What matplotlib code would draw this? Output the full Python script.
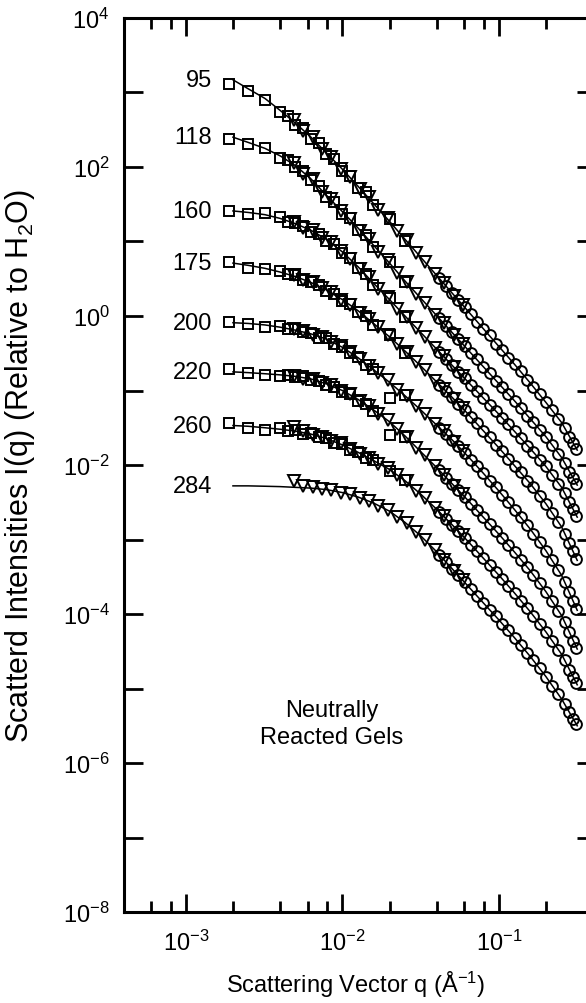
import numpy as np
import matplotlib
matplotlib.use("Agg")
import matplotlib.pyplot as plt
from matplotlib.ticker import FixedLocator, FuncFormatter, NullFormatter, NullLocator, LogLocator

plt.rcParams['font.family'] = 'Liberation Sans'
plt.rcParams['mathtext.fontset'] = 'custom'
plt.rcParams['mathtext.rm'] = 'Liberation Sans'
plt.rcParams['mathtext.it'] = 'Liberation Sans:italic'
plt.rcParams['mathtext.bf'] = 'Liberation Sans:bold'

# scattering vector grids (1/Angstrom)
q_fit = [0.0020, 0.0025, 0.0032, 0.0040, 0.0050, 0.0063, 0.0079, 0.0100, 0.0126, 0.0158, 0.0200, 0.0251,
         0.0316, 0.0398, 0.0501, 0.0631, 0.0794, 0.1000, 0.1259, 0.1585, 0.1995, 0.2512, 0.3162]
q_sq = [0.0019, 0.0025, 0.0032, 0.0040, 0.0045, 0.0050, 0.0056, 0.0063, 0.0071, 0.0079, 0.0089, 0.0100,
        0.0112, 0.0126, 0.0141, 0.0158, 0.0200, 0.0251]
q_tri = [0.0049, 0.0056, 0.0065, 0.0074, 0.0085, 0.0098, 0.0112, 0.0129, 0.0148, 0.0170, 0.0195, 0.0224,
         0.0257, 0.0295, 0.0339, 0.0389, 0.0447, 0.0513, 0.0589]
q_circ = [0.0417, 0.0457, 0.0501, 0.0550, 0.0603, 0.0661, 0.0724, 0.0794, 0.0871, 0.0955, 0.1047, 0.1148,
          0.1259, 0.1380, 0.1514, 0.1660, 0.1820, 0.1995, 0.2188, 0.2399, 0.2630, 0.2818, 0.2985, 0.3126]

# log10 of intensity, one set per gel
fit_95 = [3.17, 3.05, 2.92, 2.76, 2.59, 2.40, 2.19, 1.97, 1.74, 1.51, 1.27, 1.03, 0.79, 0.55, 0.31, 0.07,
          -0.17, -0.41, -0.65, -0.90, -1.16, -1.43, -1.80]
sq_95 = [3.12, 3.02, 2.90, 2.74, 2.69, 2.57, 2.52, 2.38, 2.32, 2.17, 2.11, 1.95, 1.88, 1.72, 1.66, 1.49, 1.30, 1.01]
tri_95 = [2.63, 2.48, 2.40, 2.24, 2.14, 1.97, 1.87, 1.70, 1.60, 1.42, 1.31, 1.14, 1.02, 0.85, 0.73, 0.56,
          0.44, 0.27, 0.15]
circ_95 = [0.51, 0.40, 0.31, 0.21, 0.12, 0.03, -0.08, -0.17, -0.26, -0.37, -0.45, -0.56, -0.65, -0.74,
           -0.86, -0.95, -1.05, -1.16, -1.26, -1.38, -1.50, -1.62, -1.70, -1.78]

fit_118 = [2.40, 2.33, 2.25, 2.15, 2.02, 1.84, 1.62, 1.40, 1.18, 0.95, 0.71, 0.47, 0.24, 0.01, -0.22, -0.45,
           -0.68, -0.91, -1.14, -1.38, -1.62, -1.90, -2.27]
sq_118 = [2.37, 2.31, 2.26, 2.12, 2.10, 2.00, 1.95, 1.82, 1.75, 1.60, 1.53, 1.37, 1.31, 1.16, 1.09, 0.92, 0.73, 0.45]
tri_118 = [2.05, 1.91, 1.84, 1.67, 1.57, 1.41, 1.30, 1.14, 1.04, 0.86, 0.75, 0.58, 0.46, 0.30, 0.18, 0.02,
           -0.09, -0.25, -0.37]
circ_118 = [-0.03, -0.13, -0.22, -0.31, -0.40, -0.50, -0.58, -0.68, -0.77, -0.87, -0.95, -1.05, -1.14, -1.23,
            -1.34, -1.42, -1.53, -1.62, -1.73, -1.85, -1.97, -2.09, -2.17, -2.25]

fit_160 = [1.41, 1.39, 1.36, 1.31, 1.24, 1.15, 1.03, 0.86, 0.66, 0.44, 0.22, 0.00, -0.22, -0.44, -0.66, -0.88,
           -1.10, -1.32, -1.55, -1.78, -2.02, -2.30, -2.70]
sq_160 = [1.41, 1.37, 1.38, 1.33, 1.26, 1.25, 1.21, 1.13, 1.10, 1.01, 0.96, 0.84, 0.78, 0.64, 0.57, 0.42, 0.24, -0.02]
tri_160 = [1.26, 1.18, 1.15, 1.05, 0.99, 0.87, 0.77, 0.63, 0.52, 0.36, 0.25, 0.10, -0.01, -0.16, -0.28, -0.43,
           -0.54, -0.69, -0.81]
circ_160 = [-0.48, -0.58, -0.66, -0.75, -0.83, -0.93, -1.01, -1.10, -1.19, -1.27, -1.37, -1.45, -1.55, -1.64,
            -1.74, -1.82, -1.93, -2.02, -2.13, -2.25, -2.38, -2.50, -2.59, -2.68]

fit_175 = [0.71, 0.68, 0.64, 0.59, 0.53, 0.45, 0.35, 0.22, 0.07, -0.10, -0.28, -0.47, -0.67, -0.88, -1.09, -1.31,
           -1.54, -1.77, -2.01, -2.25, -2.52, -2.83, -3.28]
sq_175 = [0.72, 0.65, 0.63, 0.61, 0.57, 0.55, 0.48, 0.46, 0.42, 0.33, 0.30, 0.20, 0.16, 0.05, 0.00, -0.12, -0.26, -0.49]
tri_175 = [0.55, 0.48, 0.45, 0.37, 0.32, 0.22, 0.15, 0.04, -0.04, -0.15, -0.25, -0.38, -0.48, -0.62, -0.72,
           -0.87, -0.98, -1.12, -1.23]
circ_175 = [-0.92, -1.01, -1.09, -1.18, -1.26, -1.36, -1.44, -1.54, -1.63, -1.73, -1.81, -1.92, -2.01, -2.10,
            -2.21, -2.30, -2.42, -2.52, -2.64, -2.77, -2.92, -3.05, -3.16, -3.26]

fit_200 = [-0.09, -0.10, -0.12, -0.15, -0.19, -0.24, -0.31, -0.42, -0.56, -0.72, -0.89, -1.07, -1.26, -1.46,
           -1.66, -1.88, -2.11, -2.35, -2.60, -2.86, -3.15, -3.48, -3.95]
sq_200 = [-0.08, -0.11, -0.15, -0.14, -0.18, -0.17, -0.22, -0.23, -0.29, -0.30, -0.38, -0.41, -0.50, -0.55,
          -0.66, -0.71, -1.10, -1.06]
tri_200 = [-0.17, -0.20, -0.25, -0.28, -0.35, -0.40, -0.48, -0.58, -0.67, -0.77, -0.86, -0.99, -1.08, -1.21,
           -1.31, -1.45, -1.55, -1.69, -1.81]
circ_200 = [-1.50, -1.58, -1.66, -1.75, -1.84, -1.93, -2.02, -2.11, -2.21, -2.30, -2.40, -2.50, -2.60, -2.70,
            -2.81, -2.92, -3.03, -3.15, -3.28, -3.41, -3.57, -3.71, -3.83, -3.93]

fit_220 = [-0.75, -0.76, -0.775, -0.79, -0.81, -0.845, -0.91, -1.00, -1.12, -1.26, -1.42, -1.61, -1.82, -2.03,
           -2.25, -2.47, -2.70, -2.93, -3.17, -3.42, -3.70, -4.02, -4.47]
sq_220 = [-0.71, -0.77, -0.79, -0.80, -0.79, -0.82, -0.81, -0.86, -0.87, -0.93, -0.95, -1.02, -1.05, -1.14,
          -1.18, -1.28, -1.60, -1.63]
tri_220 = [-0.80, -0.84, -0.84, -0.90, -0.93, -1.00, -1.05, -1.14, -1.21, -1.32, -1.40, -1.52, -1.62, -1.77,
           -1.87, -2.02, -2.13, -2.28, -2.39]
circ_220 = [-2.07, -2.17, -2.25, -2.34, -2.43, -2.52, -2.61, -2.70, -2.79, -2.89, -2.98, -3.07, -3.17, -3.27,
            -3.37, -3.48, -3.59, -3.70, -3.83, -3.96, -4.11, -4.24, -4.36, -4.45]

fit_260 = [-1.47, -1.48, -1.50, -1.52, -1.545, -1.585, -1.645, -1.73, -1.83, -1.94, -2.06, -2.21, -2.39, -2.59,
           -2.80, -3.02, -3.25, -3.48, -3.72, -3.97, -4.24, -4.54, -4.95]
sq_260 = [-1.44, -1.50, -1.53, -1.51, -1.55, -1.53, -1.58, -1.57, -1.63, -1.64, -1.70, -1.72, -1.80, -1.82,
          -1.90, -1.93, -2.08, -2.20]
tri_260 = [-1.49, -1.55, -1.60, -1.62, -1.68, -1.71, -1.78, -1.85, -1.90, -1.98, -2.04, -2.14, -2.22, -2.35,
           -2.44, -2.58, -2.69, -2.83, -2.94]
circ_260 = [-2.63, -2.72, -2.80, -2.89, -2.98, -3.07, -3.16, -3.25, -3.34, -3.43, -3.53, -3.62, -3.72, -3.82,
            -3.92, -4.02, -4.13, -4.24, -4.36, -4.48, -4.62, -4.75, -4.85, -4.93]

fit_284 = [-2.28, -2.28, -2.285, -2.29, -2.30, -2.31, -2.33, -2.37, -2.43, -2.51, -2.62, -2.77, -2.95, -3.16,
           -3.39, -3.62, -3.85, -4.08, -4.32, -4.57, -4.84, -5.14, -5.50]
sq_284 = []  # no low-q data for this gel
tri_284 = [-2.22, -2.28, -2.30, -2.32, -2.33, -2.37, -2.39, -2.44, -2.48, -2.55, -2.60, -2.70, -2.78, -2.90,
           -3.01, -3.14, -3.27, -3.42, -3.54]
circ_284 = [-3.21, -3.30, -3.39, -3.48, -3.57, -3.67, -3.76, -3.85, -3.94, -4.03, -4.13, -4.22, -4.32, -4.42,
            -4.52, -4.62, -4.73, -4.84, -4.96, -5.08, -5.21, -5.32, -5.41, -5.48]

curves = [
    ('95', fit_95, sq_95, tri_95, circ_95),
    ('118', fit_118, sq_118, tri_118, circ_118),
    ('160', fit_160, sq_160, tri_160, circ_160),
    ('175', fit_175, sq_175, tri_175, circ_175),
    ('200', fit_200, sq_200, tri_200, circ_200),
    ('220', fit_220, sq_220, tri_220, circ_220),
    ('260', fit_260, sq_260, tri_260, circ_260),
    ('284', fit_284, sq_284, tri_284, circ_284),
]

fig = plt.figure(figsize=(5.86, 10.04), dpi=100)
ax = fig.add_axes([0.2108, 0.0906, 0.7926, 0.8905])
ax.set_xscale('log')
ax.set_yscale('log')

mk = dict(linestyle='none', mfc='none', mec='black', mew=1.4)
for name, fit, sq, tri, circ in curves:
    ax.plot(q_fit, 10 ** np.array(fit), color='black', lw=1.1)
    if sq:
        ax.plot(q_sq, 10 ** np.array(sq), marker='s', ms=7.8, **mk)
    ax.plot(q_tri, 10 ** np.array(tri), marker='v', ms=8.8, **mk)
    ax.plot(q_circ, 10 ** np.array(circ), marker='o', ms=7.8, **mk)
    ax.text(1.47e-3, 10 ** fit[0], name, ha='right', va='center', fontsize=17)

ax.text(0.449, 0.211, 'Neutrally\nReacted Gels', transform=ax.transAxes, ha='center', va='center',
        fontsize=17, linespacing=1.25, multialignment='center')

ax.set_xlim(4.0e-4, 0.3704)
ax.set_ylim(1e-8, 1e4)

# x ticks
ax.xaxis.set_major_locator(FixedLocator([1e-3, 1e-2, 1e-1]))
ax.xaxis.set_minor_locator(LogLocator(base=10, subs=(2, 4, 6, 8), numticks=30))
ax.xaxis.set_minor_formatter(NullFormatter())

# y ticks: every decade, labels on even powers
ax.yaxis.set_major_locator(FixedLocator([10.0 ** e for e in range(-8, 5)]))
ax.yaxis.set_minor_locator(NullLocator())


def ylab(v, pos):
    e = int(round(np.log10(v)))
    return r'$10^{%d}$' % e if e % 2 == 0 else ''


ax.yaxis.set_major_formatter(FuncFormatter(ylab))

ax.tick_params(which='both', direction='in', width=2, colors='black')
ax.tick_params(axis='x', which='major', length=13, top=True, bottom=True, labelsize=17, pad=13)
ax.tick_params(axis='x', which='minor', length=8, top=True, bottom=True)
ax.tick_params(axis='y', which='major', length=14, left=True, right=False, labelsize=17, pad=10)

for side in ['left', 'bottom', 'top', 'right']:
    ax.spines[side].set_linewidth(2.2)

# shorter ticks on the right edge
sec = ax.secondary_yaxis('right')
sec.yaxis.set_major_locator(FixedLocator([10.0 ** e for e in range(-8, 5)]))
sec.yaxis.set_minor_locator(NullLocator())
sec.yaxis.set_major_formatter(NullFormatter())
sec.tick_params(which='major', direction='in', length=8, width=2)
sec.spines['right'].set_linewidth(2.2)

fig.text(20 / 586, 1 - 466 / 1004, 'Scatterd Intensities I(q) (Relative to H$_2$O)', rotation=90,
         ha='center', va='center', fontsize=22)
fig.text(356 / 586, 1 - 985 / 1004, 'Scattering Vector q (Å$^{-1}$)', ha='center', va='center', fontsize=17)

fig.savefig('out.png', dpi=100)
